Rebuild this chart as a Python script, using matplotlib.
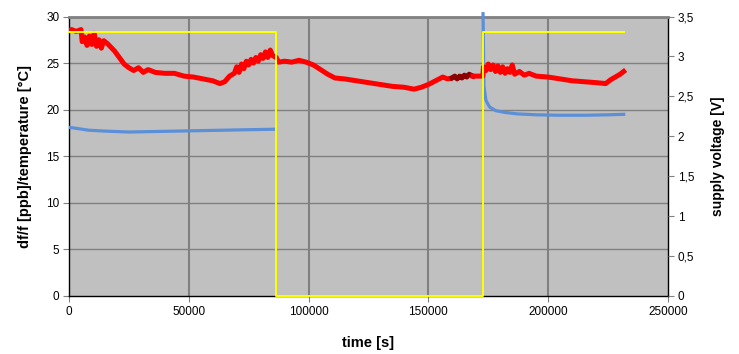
import numpy as np
import matplotlib
matplotlib.use("Agg")
import matplotlib.pyplot as plt

plt.rcParams['font.family'] = ['Liberation Sans', 'DejaVu Sans']

# temperature (red), zigzags follow the visible noise band
temp_t = [0, 1000, 3000, 5000, 5500, 6500, 7500, 8500, 9500, 10500, 11500, 12500,
          13500, 14500, 16000, 17500, 19000, 21000, 23000, 25000, 27000, 29000,
          31000, 33000, 36000, 40000, 44000, 48000, 52000, 56000, 60000, 63000,
          65000, 67000, 69000, 70000, 71000, 72000, 73000, 74000, 75000, 76000,
          77000, 78000, 79000, 80000, 81000, 82000, 83000, 84000, 85000, 86500,
          87500, 90000, 93000, 96000, 99000, 102000, 105000, 108000, 111000,
          115000, 120000, 125000, 130000, 135000, 140000, 144000, 147000, 150000,
          153000, 156000, 158000, 159800]
temp_v = [28.5, 28.6, 28.4, 28.6, 27.3, 27.8, 26.9, 27.9, 27.0, 28.2, 26.8, 27.5,
          26.6, 27.4, 27.1, 26.7, 26.3, 25.6, 24.9, 24.5, 24.2, 24.5,
          24.0, 24.3, 24.0, 23.9, 23.9, 23.6, 23.5, 23.3, 23.1, 22.8,
          23.0, 23.6, 23.9, 24.6, 24.0, 24.9, 24.4, 25.2, 24.8, 25.4,
          25.0, 25.6, 25.2, 25.9, 25.5, 26.2, 25.6, 26.4, 25.8, 25.6,
          25.1, 25.2, 25.1, 25.3, 25.1, 24.8, 24.3, 23.8, 23.4,
          23.3, 23.1, 22.9, 22.7, 22.5, 22.4, 22.2, 22.4, 22.7,
          23.1, 23.5, 23.3, 23.4]

# darker stretch of the temperature trace
dark_t = [159800, 161000, 162000, 163000, 164000, 165000, 166000, 167000, 168600]
dark_v = [23.4, 23.6, 23.3, 23.6, 23.4, 23.7, 23.5, 23.8, 23.6]

temp2_t = [168600, 172700, 173000, 174000, 175000, 176000, 177000, 178000, 179000,
           180000, 181000, 182000, 183000, 184000, 185000, 186000, 188000, 190000,
           192000, 195000, 200000, 205000, 210000, 215000, 220000, 224000, 226000,
           228000, 230000, 231500]
temp2_v = [23.6, 23.6, 24.6, 24.2, 24.9, 24.3, 24.8, 24.1, 24.7,
           24.0, 24.6, 23.9, 24.4, 24.0, 24.8, 23.8, 24.1, 23.7,
           23.9, 23.6, 23.5, 23.3, 23.1, 23.0, 22.9, 22.8, 23.2,
           23.5, 23.8, 24.1]

# df/f (blue)
dff_t = [0, 3000, 8000, 15000, 25000, 35000, 45000, 55000, 65000, 75000, 86000,
         172800, 173200, 174000, 175500, 178000, 182000, 187000, 195000, 205000,
         215000, 225000, 231500]
dff_v = [18.1, 18.0, 17.8, 17.7, 17.6, 17.65, 17.7, 17.75, 17.8, 17.85, 17.9,
         30.3, 22.5, 21.0, 20.3, 19.9, 19.7, 19.55, 19.45, 19.4,
         19.4, 19.45, 19.5]
dff_gap_after = 86000

# supply voltage (yellow, right axis)
volt_t = [0, 86400, 86400, 172800, 172800, 231600]
volt_v = [3.3, 3.3, 0, 0, 3.3, 3.3]

xticks = [0, 50000, 100000, 150000, 200000, 250000]
yticks = [0, 5, 10, 15, 20, 25, 30]
vticks = [0, 0.5, 1, 1.5, 2, 2.5, 3, 3.5]
vtick_labels = ['0', '0,5', '1', '1,5', '2', '2,5', '3', '3,5']

fig = plt.figure(figsize=(7.39, 3.54), dpi=100)
ax = fig.add_axes([69 / 739, 1 - 296 / 354, (668 - 69) / 739, (296 - 16.5) / 354])
ax.set_facecolor('#c0c0c0')

ax.set_xlim(0, 250000)
ax.set_ylim(0, 30)
ax.set_xticks(xticks)
ax.set_yticks(yticks)
ax.set_xticklabels([str(v) for v in xticks])

for y in yticks[1:-1]:
    ax.axhline(y, color='#808080', lw=1.0, zorder=1)
for x in xticks[1:-1]:
    ax.axvline(x, color='#808080', lw=1.5, zorder=1)

# blue with gap
dt = np.array(dff_t, dtype=float)
dv = np.array(dff_v, dtype=float)
i = dff_t.index(dff_gap_after) + 1
ax.plot(dt[:i], dv[:i], color='#5b8fd8', lw=2.3, zorder=3)
ax.plot(dt[i:], dv[i:], color='#5b8fd8', lw=2.3, zorder=3, clip_on=False)

ax.plot(temp_t, temp_v, color='#ff0000', lw=3.6, zorder=4)
ax.plot(dark_t, dark_v, color='#8b0000', lw=3.6, zorder=4)
ax.plot(temp2_t, temp2_v, color='#ff0000', lw=3.6, zorder=4)

for s in ['left', 'bottom', 'right']:
    ax.spines[s].set_color('black')
    ax.spines[s].set_linewidth(1.0)
ax.spines['top'].set_color('#808080')
ax.spines['top'].set_linewidth(2.0)

ax.tick_params(axis='both', direction='out', length=4, width=0.8, color='#808080',
               labelsize=8.5, pad=3)
ax.set_ylabel('df/f [ppb]/temperature [°C]', fontsize=10.5, fontweight='bold', labelpad=10)
ax.set_xlabel('time [s]', fontsize=10.5, fontweight='bold', labelpad=13)

ax2 = ax.twinx()
ax2.set_ylim(0, 3.5)
ax2.set_yticks(vticks)
ax2.set_yticklabels(vtick_labels)
ax2.plot(volt_t, volt_v, color='#ffff00', lw=1.4, zorder=5, clip_on=False)
for s in ax2.spines.values():
    s.set_visible(False)
ax2.tick_params(axis='y', direction='out', length=4, width=0.8, color='#808080',
                labelsize=8.5, pad=3)
ax2.set_ylabel('supply voltage [V]', fontsize=10, fontweight='bold', labelpad=12)

fig.savefig('out.png', dpi=100)
